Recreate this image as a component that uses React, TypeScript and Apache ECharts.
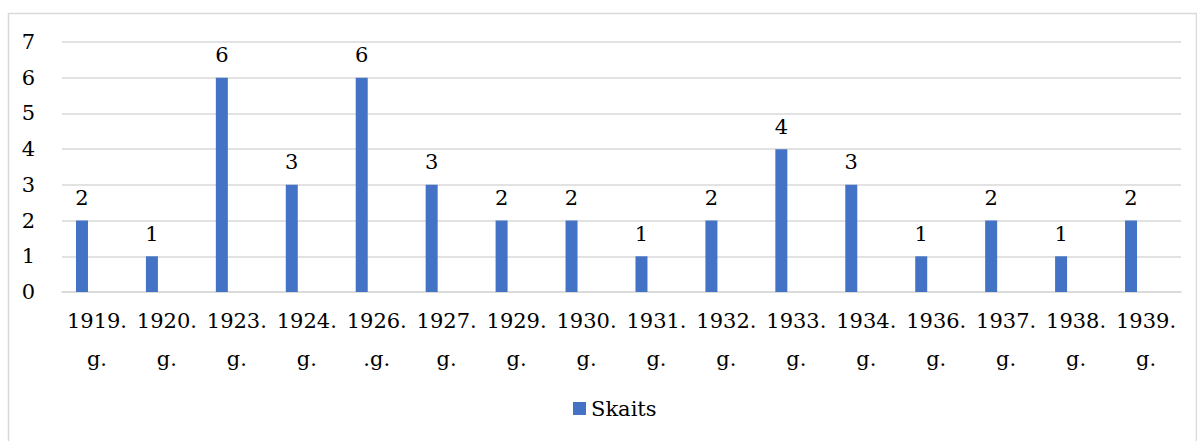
import React, { useEffect, useRef } from "react";
import * as echarts from "echarts";

const categories = [
  "1919.\ng.", "1920.\ng.", "1923.\ng.", "1924.\ng.", "1926.\n.g.", "1927.\ng.",
  "1929.\ng.", "1930.\ng.", "1931.\ng.", "1932.\ng.", "1933.\ng.", "1934.\ng.",
  "1936.\ng.", "1937.\ng.", "1938.\ng.", "1939.\ng.",
];
const skaits = [2, 1, 6, 3, 6, 3, 2, 2, 1, 2, 4, 3, 1, 2, 1, 2];
const hidden = categories.map(() => null);
const yTicks = { min: 0, max: 7, interval: 1 };

const FONT = "DejaVu Serif";
const FS = 21;

export default function App() {
  const ref = useRef<HTMLDivElement>(null);
  useEffect(() => {
    const chart = echarts.init(ref.current!, null, { renderer: "svg" });
    chart.setOption({
      animation: false,
      textStyle: { fontFamily: FONT },
      graphic: [
        {
          type: "rect",
          shape: { x: 8.5, y: 13.5, width: 1188, height: 440 },
          style: { fill: "none", stroke: "#d9d9d9", lineWidth: 1.5 },
          silent: true,
        },
      ],
      grid: { left: 62, right: 16, top: 42, bottom: 149, containLabel: false },
      legend: {
        data: ["Skaits"],
        left: 573,
        top: 398,
        padding: 0,
        itemWidth: 13,
        itemHeight: 13,
        icon: "rect",
        itemGap: 5,
        textStyle: { fontFamily: FONT, fontSize: FS, color: "#000" },
      },
      xAxis: {
        type: "category",
        data: categories,
        axisLine: { lineStyle: { color: "#d9d9d9", width: 1.5 } },
        axisTick: { show: false },
        axisLabel: {
          interval: 0,
          fontFamily: FONT,
          fontSize: FS,
          color: "#000",
          lineHeight: 38,
          margin: 10,
        },
      },
      yAxis: {
        type: "value",
        min: yTicks.min,
        max: yTicks.max,
        interval: yTicks.interval,
        axisLine: { show: false },
        axisTick: { show: false },
        splitLine: { lineStyle: { color: "#d9d9d9", width: 1.5 } },
        axisLabel: { fontFamily: FONT, fontSize: FS, color: "#000", margin: 27 },
      },
      series: [
        {
          name: "Skaits",
          type: "bar",
          data: skaits,
          barWidth: 12,
          barGap: "150%",
          itemStyle: { color: "#4472C4" },
          label: {
            show: true,
            position: "top",
            distance: 12,
            fontFamily: FONT,
            fontSize: FS,
            color: "#000",
          },
        },
        {
          name: "hidden",
          type: "bar",
          data: hidden,
          barWidth: 12,
          itemStyle: { color: "transparent" },
        },
      ],
    });
    return () => chart.dispose();
  }, []);
  return (
    <div
      ref={ref}
      style={{ position: "absolute", left: 0, top: 0, width: 1197, height: 441 }}
    />
  );
}
